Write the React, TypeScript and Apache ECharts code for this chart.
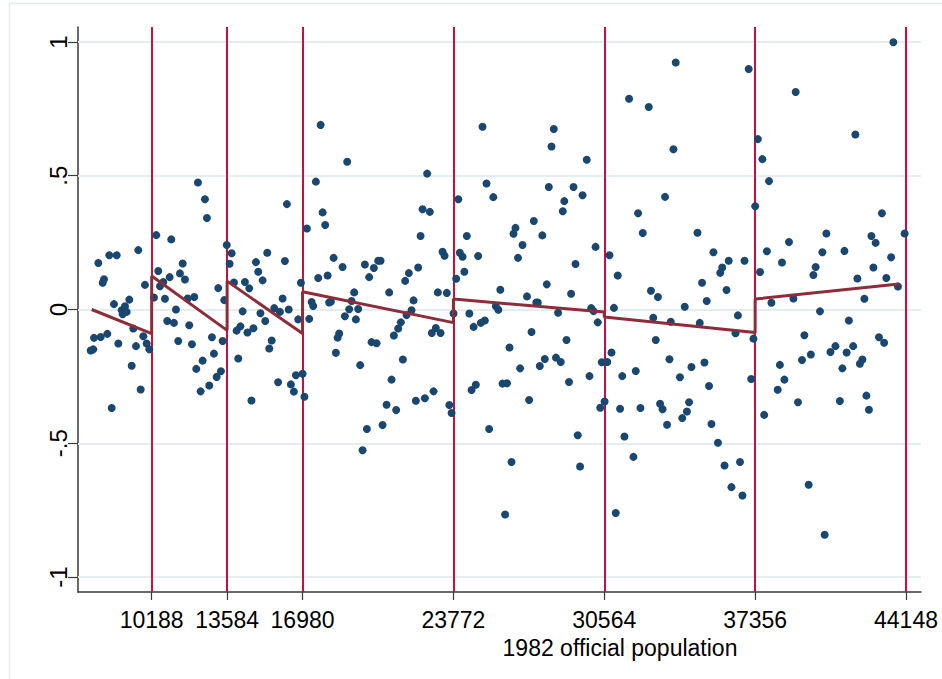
import React, { useEffect, useRef } from "react";
import * as echarts from "echarts";

// x axis tick values (1982 official population cutoffs)
const xTicks = [10188, 13584, 16980, 23772, 30564, 37356, 44148];
const yTicks = [-1, -0.5, 0, 0.5, 1];
const xRange = [6871, 44823];
const yRange = [-1.056, 1.056];

// scatter points [population, residual], grouped by interval
const seg1Points = [
  [7785, 0.174], [8280, 0.203], [8613, 0.203], [9585, 0.222], [8041, 0.113], [7983, 0.1],
  [9886, 0.092], [8491, 0.02], [9180, 0.037], [8986, 0.012], [8838, -0.003], [9063, -0.009],
  [8883, -0.018], [9360, -0.071], [8190, -0.091], [7893, -0.103], [7591, -0.106], [8685, -0.127],
  [9810, -0.1], [9963, -0.127], [10080, -0.149], [9481, -0.137], [7560, -0.149], [7443, -0.153],
  [9288, -0.21], [9693, -0.299], [8388, -0.368],
];
const seg2Points = [
  [12271, 0.475], [12586, 0.412], [12676, 0.342], [10395, 0.278], [11070, 0.262], [11583, 0.172],
  [10485, 0.144], [10998, 0.121], [11461, 0.135], [11686, 0.112], [10710, 0.103], [10561, 0.087],
  [10291, 0.045], [10786, 0.04], [11808, 0.041], [12105, 0.047], [11281, 0.0], [10890, -0.043],
  [11191, -0.05], [11880, -0.059], [11385, -0.118], [12001, -0.13], [12901, -0.104], [13185, 0.08],
  [12991, -0.165], [12483, -0.191], [12195, -0.222], [13306, -0.231], [13113, -0.252], [12780, -0.284],
  [12393, -0.306], [13383, -0.118], [13455, 0.035], [13567, 0.241],
];
const seg3Points = [
  [13788, 0.21], [13698, 0.171], [13891, 0.101], [14386, 0.103], [14580, 0.079], [14881, 0.177],
  [15390, 0.212], [14985, 0.141], [15183, 0.109], [16186, 0.181], [16276, 0.394], [14283, -0.007],
  [15084, -0.014], [15300, -0.043], [15705, 0.005], [15961, -0.009], [16083, 0.041], [16357, 0.0],
  [14013, -0.079], [14184, -0.063], [14499, -0.086], [14769, -0.07], [15592, -0.116], [15480, -0.146],
  [14085, -0.183], [15880, -0.272], [14679, -0.34], [16456, -0.28], [16591, -0.307], [16681, -0.246],
  [16983, -0.24], [17064, -0.326], [16785, -0.037], [16906, 0.1],
];
const seg4Points = [
  [17793, 0.69], [18990, 0.552], [17581, 0.478], [22590, 0.508], [17883, 0.363], [18000, 0.316],
  [17176, 0.303], [22383, 0.375], [22711, 0.365], [22293, 0.275], [23283, 0.216], [23373, 0.201],
  [18378, 0.193], [18783, 0.159], [19786, 0.168], [20191, 0.155], [20385, 0.182], [20493, 0.182],
  [19980, 0.121], [22185, 0.157], [21766, 0.136], [21600, 0.107], [17685, 0.118], [18108, 0.127],
  [19305, 0.064], [20880, 0.064], [21978, 0.034], [23071, 0.064], [23476, 0.062], [17388, 0.028],
  [17460, 0.013], [18180, 0.026], [18256, 0.03], [19188, 0.032], [19080, 0.001], [19485, 0.002],
  [18886, -0.025], [19381, -0.037], [17280, -0.035], [21888, -0.003], [21663, -0.021], [21406, -0.048],
  [21285, -0.071], [21091, -0.097], [18630, -0.09], [18558, -0.105], [18481, -0.162], [20088, -0.122],
  [20313, -0.126], [22981, -0.069], [22801, -0.088], [23193, -0.088], [23778, -0.015], [19575, -0.208],
  [21496, -0.187], [20988, -0.262], [20763, -0.356], [21195, -0.376], [22081, -0.341], [22486, -0.332],
  [22878, -0.306], [23589, -0.357], [23688, -0.387], [19876, -0.447], [20583, -0.432], [19683, -0.526],
];
const seg5Points = [
  [25083, 0.683], [28291, 0.675], [28188, 0.609], [29776, 0.56], [25263, 0.471], [23994, 0.412],
  [25569, 0.42], [28066, 0.458], [29178, 0.458], [29587, 0.427], [28764, 0.405], [28696, 0.367],
  [27391, 0.331], [26568, 0.305], [26478, 0.283], [27774, 0.277], [24376, 0.275], [26883, 0.241],
  [30172, 0.234], [24061, 0.212], [24183, 0.197], [24885, 0.2], [26680, 0.193], [29268, 0.17],
  [24264, 0.141], [23895, 0.115], [27976, 0.094], [25884, 0.074], [27085, 0.049], [29070, 0.059],
  [25681, 0.012], [25794, -0.001], [27504, 0.026], [27571, 0.026], [29979, 0.005], [30082, -0.006],
  [24489, -0.015], [28485, -0.012], [30271, -0.048], [24682, -0.065], [25006, -0.05], [25186, -0.041],
  [27288, -0.084], [28863, -0.114], [26298, -0.142], [27886, -0.185], [27661, -0.211], [28390, -0.18],
  [28606, -0.196], [30451, -0.197], [26775, -0.22], [29898, -0.249], [28975, -0.271], [25983, -0.277],
  [26185, -0.276], [24781, -0.281], [24588, -0.301], [27180, -0.338], [30577, -0.344], [30384, -0.367],
  [25380, -0.447], [29371, -0.47], [26388, -0.57], [29475, -0.587], [26100, -0.766],
];
const seg6Points = [
  [33781, 0.923], [37066, 0.899], [31680, 0.788], [32566, 0.757], [33678, 0.599], [33300, 0.421],
  [32085, 0.36], [32296, 0.286], [34762, 0.287], [30798, 0.203], [31171, 0.127], [35478, 0.214],
  [36166, 0.182], [36877, 0.182], [35874, 0.157], [35784, 0.137], [34965, 0.1], [36067, 0.073],
  [32665, 0.07], [32980, 0.047], [34186, 0.01], [35176, 0.032], [31000, 0.006], [32769, -0.031],
  [33556, -0.046], [34861, -0.05], [36580, -0.022], [36472, -0.089], [37278, -0.109], [32881, -0.114],
  [30888, -0.161], [30699, -0.196], [33498, -0.186], [34488, -0.215], [35073, -0.198], [31981, -0.23],
  [31374, -0.249], [33970, -0.253], [35280, -0.286], [37179, -0.26], [31275, -0.371], [32193, -0.368],
  [33075, -0.352], [33187, -0.373], [34380, -0.347], [34285, -0.381], [34074, -0.406], [33390, -0.431],
  [35388, -0.428], [31473, -0.475], [31878, -0.551], [35680, -0.498], [35977, -0.583], [36675, -0.57],
  [36288, -0.664], [36783, -0.695], [31081, -0.761],
];
const seg7Points = [
  [43578, 0.999], [39181, 0.813], [41868, 0.654], [37480, 0.637], [37683, 0.562], [37980, 0.48],
  [37359, 0.386], [43065, 0.36], [40563, 0.284], [44086, 0.284], [42588, 0.275], [42781, 0.249],
  [38880, 0.252], [37885, 0.218], [40383, 0.214], [41377, 0.219], [43479, 0.195], [38565, 0.176],
  [40081, 0.159], [39978, 0.129], [42678, 0.157], [37575, 0.14], [41958, 0.116], [43263, 0.118],
  [43785, 0.086], [38088, 0.025], [39078, 0.041], [42273, 0.04], [40275, -0.007], [41575, -0.041],
  [39573, -0.096], [42930, -0.104], [43164, -0.124], [40972, -0.137], [40747, -0.159], [41769, -0.137],
  [41476, -0.161], [39865, -0.168], [39465, -0.189], [42183, -0.187], [42070, -0.203], [38470, -0.207],
  [41283, -0.22], [38673, -0.262], [38371, -0.3], [42363, -0.322], [39285, -0.347], [41170, -0.342],
  [42480, -0.375], [37764, -0.394], [39766, -0.655], [40486, -0.842],
];

// piecewise linear fit (with vertical jumps at the cutoffs)
const fitLine = [
  [7487, 0.0], [10188, -0.09],
  [10188, 0.125], [13584, -0.078],
  [13584, 0.106], [16980, -0.09],
  [16980, 0.066], [23772, -0.049],
  [23772, 0.039], [30564, -0.009],
  [30564, -0.028], [37356, -0.086],
  [37356, 0.039], [43830, 0.095],
];

const xTitle = "1982 official population";

const FONT = "'Liberation Sans', Arial, Helvetica, sans-serif";

function fmtY(v: number): string {
  if (v === 0) return "0";
  const s = String(v);
  return s.replace(/^(-?)0\./, "$1.");
}

export default function App() {
  const ref = useRef<HTMLDivElement>(null);
  useEffect(() => {
    document.body.style.margin = "0";
    if (!ref.current) return;
    const chart = echarts.init(ref.current, null, { renderer: "svg" });
    const allPoints = [
      ...seg1Points, ...seg2Points, ...seg3Points, ...seg4Points,
      ...seg5Points, ...seg6Points, ...seg7Points,
    ];
    chart.setOption({
      animation: false,
      backgroundColor: "#ffffff",
      grid: { left: 78, right: 21, top: 27, bottom: 87, containLabel: false, outerBoundsMode: "none" },
      xAxis: {
        type: "value",
        min: xRange[0],
        max: xRange[1],
        axisLine: { show: true, onZero: false, lineStyle: { color: "#3a3a3a", width: 1.5 } },
        axisTick: { show: true, customValues: xTicks, length: 8, lineStyle: { color: "#3a3a3a", width: 1.2 } },
        axisLabel: {
          customValues: xTicks,
          fontSize: 23,
          fontFamily: FONT,
          color: "#000000",
          margin: 16,
          formatter: (v: number) => String(v),
        },
        splitLine: { show: false },
      },
      yAxis: {
        type: "value",
        min: yRange[0],
        max: yRange[1],
        axisLine: { show: true, onZero: false, lineStyle: { color: "#3a3a3a", width: 1.5 } },
        axisTick: { show: true, customValues: yTicks, length: 10, lineStyle: { color: "#3a3a3a", width: 1.2 } },
        axisLabel: {
          customValues: yTicks,
          rotate: 90,
          fontSize: 24,
          fontFamily: FONT,
          color: "#000000",
          margin: 8,
          formatter: (v: number) => fmtY(v),
        },
        splitLine: { show: false },
      },
      graphic: [
        {
          type: "line",
          shape: { x1: 9, y1: 3.5, x2: 942, y2: 3.5 },
          style: { stroke: "#e3ebee", lineWidth: 1.5 },
          silent: true,
        },
        {
          type: "line",
          shape: { x1: 9.5, y1: 3, x2: 9.5, y2: 679 },
          style: { stroke: "#e3ebee", lineWidth: 1.5 },
          silent: true,
        },
        {
          type: "text",
          x: 620,
          y: 648,
          style: {
            text: xTitle,
            fontSize: 23,
            fontFamily: FONT,
            fill: "#000000",
            align: "center",
            verticalAlign: "middle",
          },
          silent: true,
        },
      ],
      series: [
        {
          type: "line",
          data: [],
          z: 1,
          silent: true,
          markLine: {
            z: 1,
            silent: true,
            symbol: "none",
            animation: false,
            label: { show: false },
            emphasis: { disabled: true },
            lineStyle: { color: "#e4eef0", width: 2, type: "solid" },
            data: yTicks.map((v) => ({ yAxis: v })),
          },
        },
        {
          type: "line",
          data: [],
          z: 2,
          silent: true,
          markLine: {
            z: 2,
            silent: true,
            symbol: "none",
            animation: false,
            label: { show: false },
            emphasis: { disabled: true },
            lineStyle: { color: "#c8103c", width: 2, type: "solid" },
            data: xTicks.map((v) => ({ xAxis: v })),
          },
        },
        {
          type: "scatter",
          data: allPoints,
          z: 3,
          symbol: "circle",
          symbolSize: 8,
          itemStyle: { color: "#1a476f", opacity: 1 },
          silent: true,
        },
        {
          type: "line",
          data: fitLine,
          z: 4,
          showSymbol: false,
          symbol: "none",
          silent: true,
          lineStyle: { color: "#8e2c3a", width: 3 },
        },
      ],
    });
    return () => chart.dispose();
  }, []);
  return <div ref={ref} style={{ width: 942, height: 679 }} />;
}
